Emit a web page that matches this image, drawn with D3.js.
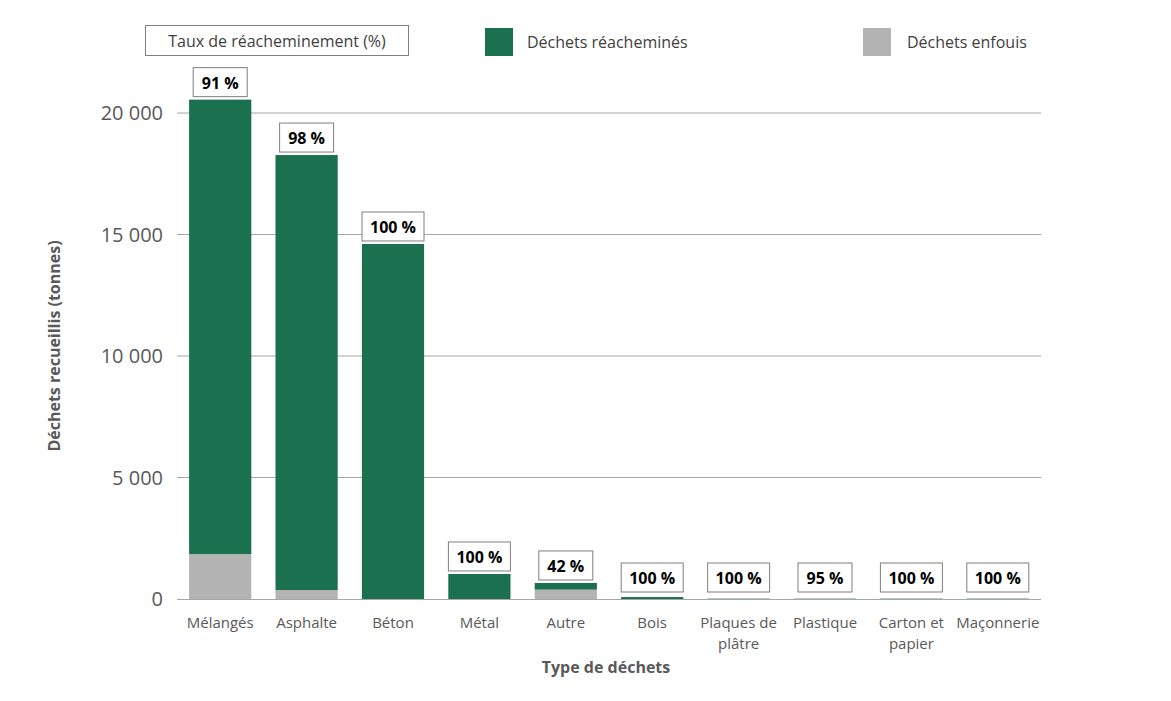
<!DOCTYPE html>
<html><head><meta charset="utf-8">
<script src="https://cdn.jsdelivr.net/npm/d3@7"></script>
<style>body{margin:0;background:#fff;font-family:"Open Sans",sans-serif}</style>
</head><body><svg id="c" width="1171" height="701"></svg>
<script>
const categories=["Mélangés","Asphalte","Béton","Métal","Autre","Bois","Plaques de|plâtre","Plastique","Carton et|papier","Maçonnerie"];
const diverted=[18700,17900,14610,1030,275,80,15,14,15,15];
const landfilled=[1850,370,0,0,385,0,0,1,0,0];
const rates=["91 %","98 %","100 %","100 %","42 %","100 %","100 %","95 %","100 %","100 %"];
const yTicks=[0,5000,10000,15000,20000];
const green="#1b7050",grey="#b3b3b3";
const svg=d3.select("#c");
const x=d3.scaleBand().domain(categories).range([177,1041]).paddingInner(0.28).paddingOuter(0.14);
const y=d3.scaleLinear().domain([0,20000]).range([599,113]);
const fmt=v=>v===0?"0":d3.format(",")(v).replace(/,/g," ");
const g=svg.append("g");
yTicks.forEach(t=>{if(t>0)g.append("line").attr("x1",177).attr("x2",1041).attr("y1",y(t)).attr("y2",y(t)).attr("stroke","#a6a6a6");
 g.append("text").attr("x",163).attr("y",y(t)+7).attr("text-anchor","end").attr("font-size",20).attr("fill","#595959").text(fmt(t));});
categories.forEach((c,i)=>{
 const bx=x(c),bw=x.bandwidth();
 g.append("rect").attr("x",bx).attr("width",bw).attr("y",y(landfilled[i])).attr("height",y(0)-y(landfilled[i])).attr("fill",grey);
 g.append("rect").attr("x",bx).attr("width",bw).attr("y",y(landfilled[i]+diverted[i])).attr("height",y(landfilled[i])-y(landfilled[i]+diverted[i])).attr("fill",green);
 const top=y(landfilled[i]+diverted[i]);
 const bb=Math.min(top-3,592), w=rates[i].length>4?62:54;
 const cx=bx+bw/2;
 g.append("rect").attr("x",cx-w/2).attr("y",bb-29).attr("width",w).attr("height",29).attr("fill","#fff").attr("stroke","#7f7f7f");
 g.append("text").attr("x",cx).attr("y",bb-8).attr("text-anchor","middle").attr("font-size",16).attr("font-weight","bold").attr("fill","#000").text(rates[i]);
 const lines=c.split("|");
 lines.forEach((l,k)=>g.append("text").attr("x",cx).attr("y",628+k*21).attr("text-anchor","middle").attr("font-size",15).attr("fill","#595959").text(l));
});
g.append("line").attr("x1",177).attr("x2",1041).attr("y1",599.5).attr("y2",599.5).attr("stroke","#a6a6a6");
g.append("text").attr("x",606).attr("y",673).attr("text-anchor","middle").attr("font-size",16).attr("font-weight","bold").attr("fill","#595959").text("Type de déchets");
g.append("text").attr("transform","translate(60,346) rotate(-90)").attr("text-anchor","middle").attr("font-size",16).attr("font-weight","bold").attr("fill","#595959").text("Déchets recueillis (tonnes)");
// legend
g.append("rect").attr("x",145.5).attr("y",25.5).attr("width",263).attr("height",30).attr("fill","#fff").attr("stroke","#7f7f7f");
g.append("text").attr("x",277).attr("y",47).attr("text-anchor","middle").attr("font-size",16).attr("fill","#404040").text("Taux de réacheminement (%)");
g.append("rect").attr("x",485).attr("y",28).attr("width",28).attr("height",28).attr("fill",green);
g.append("text").attr("x",527).attr("y",48).attr("font-size",16).attr("fill","#404040").text("Déchets réacheminés");
g.append("rect").attr("x",863).attr("y",28).attr("width",28).attr("height",28).attr("fill",grey);
g.append("text").attr("x",907).attr("y",48).attr("font-size",16).attr("fill","#404040").text("Déchets enfouis");
</script></body></html>
